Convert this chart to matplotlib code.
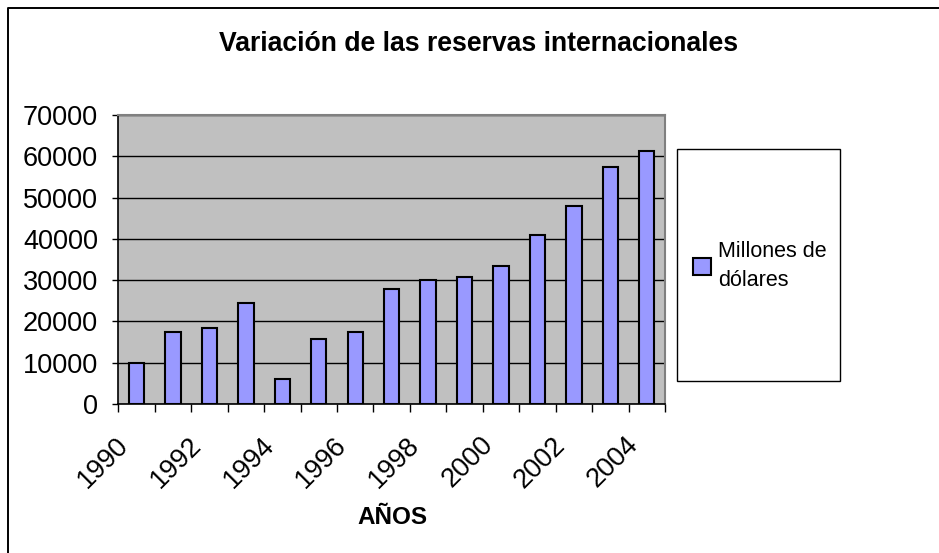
import matplotlib
matplotlib.use("Agg")
import matplotlib.pyplot as plt
import matplotlib.transforms as mtransforms
from matplotlib.patches import Rectangle, Patch
from matplotlib.lines import Line2D

years = list(range(1990, 2005))
values = [10000, 17500, 18400, 24500, 6050, 15700, 17400, 27900, 30000,
          30700, 33500, 40850, 47870, 57300, 61330]
yticks = [0, 10000, 20000, 30000, 40000, 50000, 60000, 70000]
xlabels = ["1990", "1992", "1994", "1996", "1998", "2000", "2002", "2004"]
title = "Variación de las reservas internacionales"
xlabel = "AÑOS"
series_name = "Millones de\ndólares"

plt.rcParams['font.family'] = ['Liberation Sans', 'DejaVu Sans']

W, H = 939, 553
fig = plt.figure(figsize=(W / 100, H / 100), dpi=100)

# figure border (partially visible)
fig.add_artist(Line2D([7.5 / W, 7.5 / W, 1.0], [0.0, 1 - 7.5 / H, 1 - 7.5 / H],
                      transform=fig.transFigure, color='black', lw=1.4))

x0, x1 = 118.3, 665
y0, y1 = 115, 404
ax = fig.add_axes([x0 / W, 1 - y1 / H, (x1 - x0) / W, (y1 - y0) / H])
ax.set_facecolor('#C0C0C0')

xs = list(range(len(years)))
ax.bar(xs, values, width=0.42, color='#9999FF', edgecolor='black', linewidth=1.5,
       zorder=3)

ax.set_xlim(-0.5, len(years) - 0.5)
ax.set_ylim(0, 70000)
ax.set_yticks(yticks)
ax.set_yticklabels([str(v) for v in yticks], fontsize=19.5)
ax.yaxis.grid(True, color='black', linewidth=1.0, zorder=1)
ax.set_axisbelow(True)

# major ticks at category boundaries, labels on minor ticks at every other center
ax.set_xticks([i - 0.5 for i in range(len(years) + 1)])
ax.set_xticklabels([])
label_pos = [years.index(int(s)) for s in xlabels]
ax.set_xticks(label_pos, minor=True)
ax.set_xticklabels(xlabels, minor=True, rotation=45, ha='right', va='top',
                   fontsize=19.5)
ax.tick_params(axis='x', which='major', direction='out', length=5.5, width=1,
               color='black')
ax.tick_params(axis='x', which='minor', length=0, pad=20)
ax.tick_params(axis='y', direction='out', length=4.5, width=1, color='black',
               pad=10)
off = mtransforms.ScaledTranslation(-3 / 100, 0, fig.dpi_scale_trans)
for lab in ax.xaxis.get_minorticklabels():
    lab.set_transform(lab.get_transform() + off)

for s in ['top', 'right']:
    ax.spines[s].set_color('#808080')
    ax.spines[s].set_linewidth(1.5)
for s in ['left', 'bottom']:
    ax.spines[s].set_color('black')
    ax.spines[s].set_linewidth(1.2)

fig.text(479 / W, 1 - 44 / H, title, ha='center', va='center',
         fontsize=19.2, fontweight='bold')
fig.text(392 / W, 1 - 517 / H, xlabel, ha='center', va='center',
         fontsize=17.5, fontweight='bold')

# legend box
lx0, lx1, ly0, ly1 = 677, 840, 149, 381
fig.add_artist(Rectangle((lx0 / W, 1 - ly1 / H), (lx1 - lx0) / W, (ly1 - ly0) / H,
                         transform=fig.transFigure, facecolor='white',
                         edgecolor='black', linewidth=1.0, zorder=0))
handle = Patch(facecolor='#9999FF', edgecolor='black', linewidth=1.5)
leg = fig.legend([handle], [series_name], loc='center left',
                 bbox_to_anchor=(693 / W, 1 - 266 / H), frameon=False,
                 fontsize=15.5, handlelength=0.85, handleheight=0.85,
                 handletextpad=0.3, borderpad=0, borderaxespad=0,
                 labelspacing=0)
for t in leg.get_texts():
    t.set_linespacing(1.45)

fig.savefig('out.png', dpi=100)
